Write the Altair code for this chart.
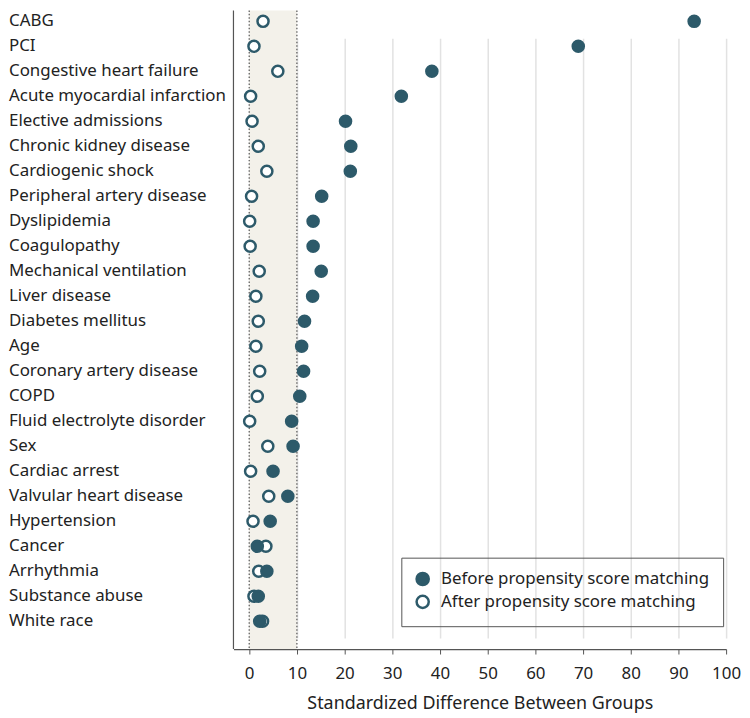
import altair as alt
import pandas as pd

labels = ["CABG", "PCI", "Congestive heart failure", "Acute myocardial infarction",
          "Elective admissions", "Chronic kidney disease", "Cardiogenic shock",
          "Peripheral artery disease", "Dyslipidemia", "Coagulopathy",
          "Mechanical ventilation", "Liver disease", "Diabetes mellitus", "Age",
          "Coronary artery disease", "COPD", "Fluid electrolyte disorder", "Sex",
          "Cardiac arrest", "Valvular heart disease", "Hypertension", "Cancer",
          "Arrhythmia", "Substance abuse", "White race"]
before = [93.3, 69.0, 38.3, 31.9, 20.2, 21.3, 21.2, 15.2, 13.4, 13.4, 15.1, 13.3,
          11.6, 11.0, 11.4, 10.6, 8.9, 9.2, 5.0, 8.1, 4.4, 1.7, 3.7, 1.9, 2.2]
after = [2.9, 1.0, 6.0, 0.3, 0.6, 1.9, 3.7, 0.5, 0.1, 0.2, 2.1, 1.4, 1.9, 1.4,
         2.2, 1.7, 0.1, 3.9, 0.3, 4.1, 0.8, 3.5, 2.0, 1.0, 2.8]
series_names = ["Before propensity score matching", "After propensity score matching"]
band_limits = [0, 10]
x_ticks = list(range(0, 101, 10))

TEAL = "#2d5a6a"
FONT = "Noto Sans"
W, H = 496, 643

rows = []
for lab, a in zip(labels, after):
    rows.append({"label": lab, "value": a, "series": series_names[1]})
for lab, b in zip(labels, before):
    rows.append({"label": lab, "value": b, "series": series_names[0]})
pts = pd.DataFrame(rows)
lab_df = pd.DataFrame({"label": labels})
band_df = pd.DataFrame({"x0": [band_limits[0]], "x1": [band_limits[1]]})
thr_df = pd.DataFrame({"x": band_limits})

xscale = alt.Scale(domain=[-3.3, 100], nice=False, zero=False)
yscale = alt.Scale(type="point", domain=labels, range=[11, 615], padding=0)

xaxis = alt.Axis(values=x_ticks, title="Standardized Difference Between Groups",
                 grid=True, gridColor="#e2e2e2", gridWidth=1.5,
                 domainColor="#555", domainWidth=1.2, tickColor="#555", tickSize=5,
                 labelFontSize=17, labelColor="#222", labelFont=FONT, labelPadding=12,
                 titleFontSize=18, titleFont=FONT, titleColor="#222",
                 titleFontWeight="normal", titlePadding=13, labelFlush=False)

base_x = alt.X("x0:Q", scale=xscale, axis=xaxis)

band = alt.Chart(band_df).mark_rect(color="#f3f1ea").encode(
    x=base_x, x2="x1:Q", y=alt.value(0), y2=alt.value(H))

thr = alt.Chart(thr_df).mark_rule(color="#555", strokeDash=[1.5, 2], strokeWidth=1.2).encode(
    x=alt.X("x:Q", scale=xscale), y=alt.value(0), y2=alt.value(H))

left_line = alt.Chart(thr_df.head(1)).mark_rule(color="#555", strokeWidth=1.2).encode(
    x=alt.value(0), y=alt.value(0), y2=alt.value(H))

points = alt.Chart(pts).mark_point(filled=False, shape="circle", size=125, strokeWidth=2.5,
                                   stroke=TEAL, opacity=1).encode(
    x=alt.X("value:Q", scale=xscale),
    y=alt.Y("label:N", scale=yscale, axis=None),
    fill=alt.Fill("series:N", scale=alt.Scale(domain=series_names, range=[TEAL, "white"]),
                  legend=alt.Legend(title=None, orient="none", legendX=169, legendY=551,
                                    strokeColor="#555", padding=13, labelFontSize=17,
                                    labelFont=FONT, labelColor="#222", symbolSize=150,
                                    symbolStrokeColor=TEAL, symbolStrokeWidth=2.5,
                                    symbolType="circle", rowPadding=0, labelOffset=10,
                                    labelLimit=400)),
)

texts = alt.Chart(lab_df).mark_text(align="left", baseline="middle", fontSize=17,
                                    font=FONT, color="#222").encode(
    x=alt.value(-226), y=alt.Y("label:N", scale=yscale, axis=None), text="label:N")

chart = alt.layer(band, thr, left_line, points, texts).properties(
    width=W, height=H,
    autosize=alt.AutoSizeParams(type="none"),
    padding={"left": 227, "top": 0, "right": 16, "bottom": 66},
).configure_view(stroke=None)

chart.save("out.html", embed_options={"renderer": "svg", "actions": False})
